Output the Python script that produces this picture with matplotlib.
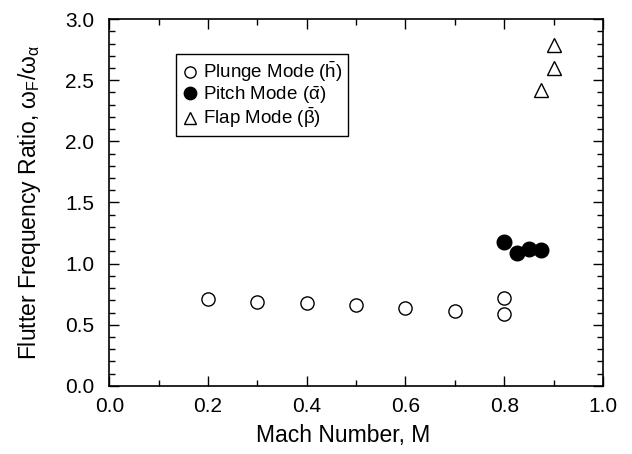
import matplotlib
matplotlib.use("Agg")
from matplotlib import pyplot as plt
from matplotlib.ticker import MultipleLocator

plt.rcParams['font.family'] = ['Liberation Sans', 'DejaVu Sans']
plt.rcParams['mathtext.fontset'] = 'custom'
plt.rcParams['mathtext.rm'] = 'Liberation Sans'
plt.rcParams['mathtext.it'] = 'Liberation Sans'
plt.rcParams['mathtext.bf'] = 'Liberation Sans:bold'

# plunge mode
plunge_mach = [0.2, 0.3, 0.4, 0.5, 0.6, 0.7, 0.8, 0.8]
plunge_ratio = [0.71, 0.69, 0.675, 0.66, 0.637, 0.61, 0.72, 0.59]
# pitch mode
pitch_mach = [0.8, 0.825, 0.85, 0.875]
pitch_ratio = [1.18, 1.085, 1.12, 1.115]
# flap mode
flap_mach = [0.875, 0.9, 0.9]
flap_ratio = [2.42, 2.60, 2.79]

fig = plt.figure(figsize=(6.32, 4.54), dpi=100)
ax = fig.add_axes([0.173, 0.150, 0.781, 0.808])

ax.plot(plunge_mach, plunge_ratio, 'o', ms=9.5, mfc='white', mec='black', mew=1.0,
        label=r'Plunge Mode ($\bar{\mathrm{h}}$)')
ax.plot(pitch_mach, pitch_ratio, 'o', ms=10.5, mfc='black', mec='black',
        label=r'Pitch Mode ($\bar{\alpha}$)')
ax.plot(flap_mach, flap_ratio, '^', ms=10, mfc='white', mec='black', mew=1.0,
        label=r'Flap Mode ($\bar{\beta}$)')

ax.set_xlim(0, 1.0)
ax.set_ylim(0, 3.0)
ax.xaxis.set_major_locator(MultipleLocator(0.2))
ax.xaxis.set_minor_locator(MultipleLocator(0.1))
ax.yaxis.set_major_locator(MultipleLocator(0.5))
ax.yaxis.set_minor_locator(MultipleLocator(0.1))
ax.tick_params(which='both', direction='in', top=True, right=True, labelsize=15, width=1.0)
ax.tick_params(which='major', length=7)
ax.tick_params(which='minor', length=4)
ax.tick_params(axis='x', which='major', pad=8)
ax.tick_params(axis='y', which='major', pad=11)
for s in ax.spines.values():
    s.set_linewidth(1.2)

ax.set_xlabel('Mach Number, M', fontsize=16.5, labelpad=6)
ax.xaxis.label.set_x(0.474)
ax.set_ylabel(r'Flutter Frequency Ratio, $\omega_F/\omega_\alpha$', fontsize=16.5, labelpad=16)

leg = ax.legend(loc='upper left', bbox_to_anchor=(0.136, 0.905), borderaxespad=0,
                fontsize=13.5, handlelength=0.8, handletextpad=0.3, labelspacing=0.0,
                borderpad=0.3, fancybox=False, edgecolor='black', framealpha=1,
                markerscale=0.85)
leg.get_frame().set_linewidth(1.0)

plt.savefig('out.png', dpi=100)
